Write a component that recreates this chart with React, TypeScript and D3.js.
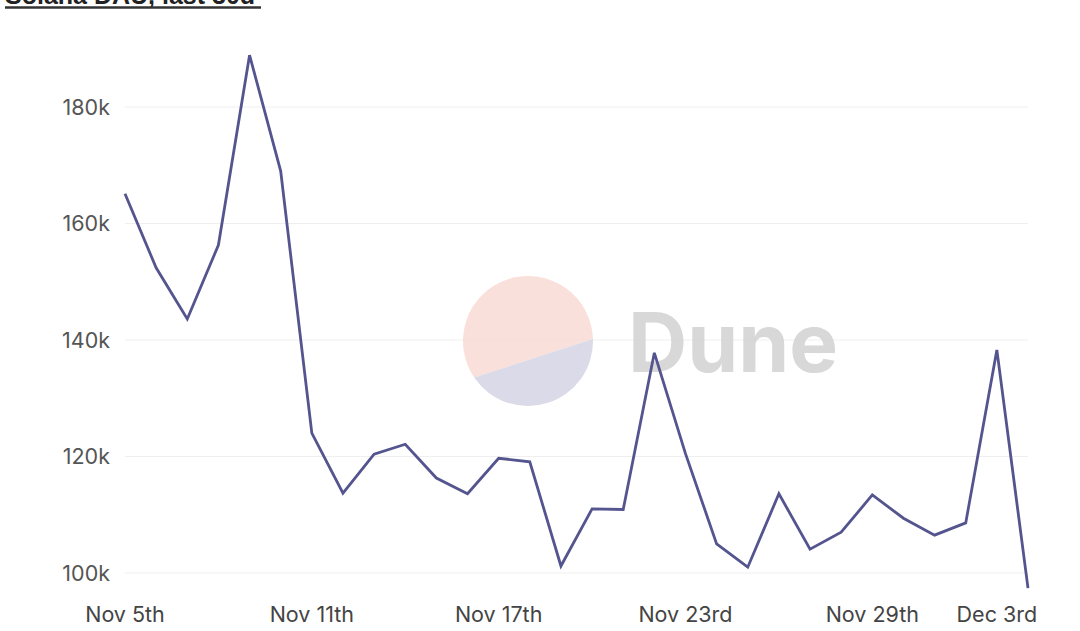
import React from "react";
import * as d3 from "d3";

const dayLabels = [
  "Nov 5", "Nov 6", "Nov 7", "Nov 8", "Nov 9", "Nov 10", "Nov 11", "Nov 12", "Nov 13", "Nov 14",
  "Nov 15", "Nov 16", "Nov 17", "Nov 18", "Nov 19", "Nov 20", "Nov 21", "Nov 22", "Nov 23", "Nov 24",
  "Nov 25", "Nov 26", "Nov 27", "Nov 28", "Nov 29", "Nov 30", "Dec 1", "Dec 2", "Dec 3", "Dec 4",
];
const dauValues = [
  165.1, 152.4, 143.6, 156.3, 188.9, 169.0, 124.0, 113.7, 120.4, 122.1,
  116.3, 113.6, 119.7, 119.1, 101.2, 111.0, 110.9, 137.8, 120.5, 105.0,
  101.0, 113.6, 104.1, 107.0, 113.4, 109.4, 106.5, 108.6, 138.3, 97.4,
];
const xTickIndex = [0, 6, 12, 18, 24, 28];
const xTickLabels = ["Nov 5th", "Nov 11th", "Nov 17th", "Nov 23rd", "Nov 29th", "Dec 3rd"];
const yTicks = [100, 120, 140, 160, 180];

const W = 1080;
const H = 631;
const FONT = "Inter, 'Noto Sans', sans-serif";

export default function App() {
  const x = d3.scaleLinear().domain([0, dayLabels.length - 1]).range([125, 1028]);
  const y = d3.scaleLinear().domain([100, 180]).range([573, 107]);
  const line = d3
    .line<number>()
    .x((_, i) => x(i))
    .y((d) => y(d));

  // watermark geometry
  const cx = 528, cy = 341, r = 65;
  const a1 = Math.atan2(377 - cy, 475 - cx);
  const a2 = Math.atan2(339 - cy, 593 - cx);
  const p1 = [cx + r * Math.cos(a1), cy + r * Math.sin(a1)];
  const p2 = [cx + r * Math.cos(a2), cy + r * Math.sin(a2)];
  const topPath = `M${p1[0]},${p1[1]} A${r},${r} 0 1 1 ${p2[0]},${p2[1]} Z`;
  const botPath = `M${p2[0]},${p2[1]} A${r},${r} 0 0 1 ${p1[0]},${p1[1]} Z`;

  return (
    <svg
      width={W}
      height={H}
      style={{ position: "absolute", left: 0, top: 0, background: "#fff" }}
    >
      <rect width={W} height={H} fill="#fff" />
      <text
        x={5}
        y={4}
        fontFamily="'Liberation Sans', Arial, sans-serif"
        fontWeight={700}
        fontSize={25}
        fill="#222"
      >
        Solana DAU, last 30d
      </text>
      <line x1={5} x2={261} y1={7.5} y2={7.5} stroke="#333" strokeWidth={2.5} />

      {yTicks.map((t) => (
        <g key={t}>
          <line x1={125} x2={1028} y1={y(t)} y2={y(t)} stroke="#efefef" strokeWidth={1} />
          <text
            x={110}
            y={y(t)}
            dy="0.35em"
            textAnchor="end"
            fontFamily={FONT}
            fontSize={21.5}
            fill="#555"
          >
            {`${t}k`}
          </text>
        </g>
      ))}

      <g opacity={0.9}>
        <path d={topPath} fill="#f9ddd6" />
        <path d={botPath} fill="#d6d7e6" />
        <text
          x={628}
          y={372}
          fontFamily={FONT}
          fontWeight={700}
          fontSize={82}
          fill="#d4d4d4"
        >
          Dune
        </text>
      </g>

      <path
        d={line(dauValues) || ""}
        fill="none"
        stroke="#54548f"
        strokeWidth={2.8}
        strokeLinejoin="miter"
      />

      {xTickIndex.map((idx, k) => (
        <text
          key={idx}
          x={x(idx)}
          y={614}
          dy="0.35em"
          textAnchor="middle"
          fontFamily={FONT}
          fontSize={21.5}
          fill="#444"
        >
          {xTickLabels[k]}
        </text>
      ))}
    </svg>
  );
}
